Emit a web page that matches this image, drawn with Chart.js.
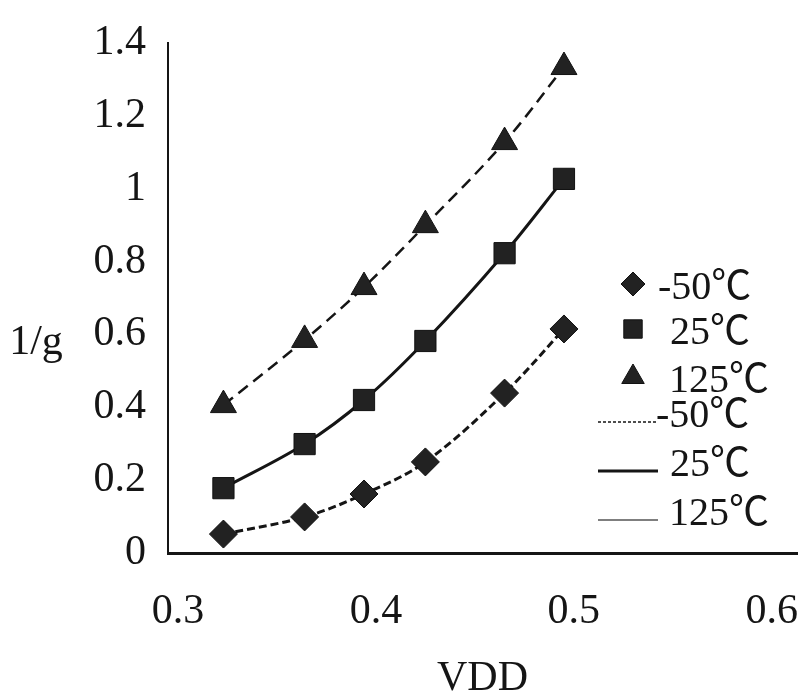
<!DOCTYPE html>
<html>
<head>
<meta charset="utf-8">
<script src="https://cdn.jsdelivr.net/npm/chart.js@4.4.1/dist/chart.umd.min.js"></script>
<style>
  html, body { margin: 0; padding: 0; background: #fff; overflow: hidden; }
  #wrap { width: 798px; height: 700px; }
</style>
</head>
<body>
<div id="wrap"><canvas id="chart"></canvas></div>
<script>
// values
const vdd = [0.323, 0.364, 0.394, 0.425, 0.465, 0.495]
const gMinus50 = [0.052, 0.099, 0.162, 0.250, 0.439, 0.615]
const g25 = [0.178, 0.299, 0.420, 0.582, 0.823, 1.027]
const g125 = [0.406, 0.585, 0.730, 0.900, 1.128, 1.334]
const seriesNames = ['-50℃', '25℃', '125℃']
const xTicks = [0.3, 0.4, 0.5, 0.6]
const yTicks = [0, 0.2, 0.4, 0.6, 0.8, 1, 1.2, 1.4]

const FONT = "'Liberation Serif', 'Noto Sans CJK SC', serif"
const INK = '#151515'

const toPoints = (ys) => vdd.map((x, i) => ({ x, y: ys[i] }))

const markerStyles = ['rectRot', 'rect', 'triangle']
const markerRadius = [14, 15, 15]
const lineDash = [[8, 4], [], [12, 7]]
const lineWidth = [3, 3, 2.5]

const datasets = [gMinus50, g25, g125].map((ys, i) => ({
  label: seriesNames[i],
  data: toPoints(ys),
  showLine: true,
  tension: 0.35,
  borderColor: INK,
  borderWidth: lineWidth[i],
  borderDash: lineDash[i],
  pointStyle: markerStyles[i],
  pointRadius: markerRadius[i],
  pointBackgroundColor: '#222',
  pointBorderColor: '#111',
  pointBorderWidth: 1
}))

// the tick labels must not push the plot area in, the reference lets them hang over
const noLabelPadding = (scale) => {
  scale.getPadding = () => ({ left: 0, top: 0, right: 0, bottom: 0 })
}

// legend + horizontal y title drawn by hand, the reference puts them inside the plot
const extras = {
  id: 'extras',
  afterDraw(chart) {
    const ctx = chart.ctx
    ctx.save()
    ctx.fillStyle = INK
    ctx.font = `42px ${FONT}`
    ctx.textBaseline = 'middle'
    ctx.textAlign = 'center'
    ctx.fillText('1/g', 36, 343)

    ctx.textAlign = 'left'
    ctx.font = `40px ${FONT}`
    const markerY = [284, 329, 377]
    const textX = [658, 670, 669]
    markerStyles.forEach((style, i) => {
      ctx.fillStyle = '#222'
      ctx.strokeStyle = '#111'
      ctx.lineWidth = 1
      ctx.setLineDash([])
      Chart.helpers.drawPoint(ctx, { pointStyle: style, radius: i === 0 ? 12 : 13, rotation: 0, borderWidth: 1 }, 633, markerY[i])
      ctx.fillStyle = INK
      ctx.fillText(seriesNames[i], textX[i], markerY[i] + 4)
    })

    const lineY = [422, 471, 520]
    const lineStyles = [
      { dash: [3, 2], w: 1.5, color: INK, textX: 656 },
      { dash: [], w: 3, color: INK, textX: 670 },
      { dash: [], w: 1.5, color: '#555', textX: 669 }
    ]
    lineStyles.forEach((s, i) => {
      ctx.beginPath()
      ctx.setLineDash(s.dash)
      ctx.lineWidth = s.w
      ctx.strokeStyle = s.color
      ctx.moveTo(598, lineY[i])
      ctx.lineTo(658, lineY[i])
      ctx.stroke()
      ctx.fillStyle = INK
      ctx.fillText(seriesNames[i], s.textX, lineY[i] - 6)
    })
    ctx.restore()
  }
}

new Chart(document.getElementById('chart'), {
  type: 'scatter',
  data: { datasets },
  plugins: [extras],
  options: {
    responsive: true,
    maintainAspectRatio: false,
    animation: false,
    layout: { autoPadding: false, padding: { top: 43, right: 1, left: 0, bottom: 0 } },
    plugins: {
      legend: { display: false },
      tooltip: { enabled: false }
    },
    scales: {
      x: {
        type: 'linear',
        min: 0.295,
        max: 0.6127,
        afterBuildTicks: (scale) => { scale.ticks = xTicks.map(v => ({ value: v })) },
        afterFit: (scale) => {
          scale.height = 147
          noLabelPadding(scale)
        },
        grid: { display: false, drawTicks: false },
        border: { display: true, color: INK, width: 3 },
        ticks: {
          color: INK,
          padding: 34,
          font: { family: FONT, size: 42 },
          callback: (v) => String(v)
        },
        title: {
          display: true,
          text: 'VDD',
          color: INK,
          font: { family: FONT, size: 42 },
          padding: { top: 10, bottom: -4 }
        }
      },
      y: {
        min: 0,
        max: 1.4,
        afterBuildTicks: (scale) => { scale.ticks = yTicks.map(v => ({ value: v })) },
        afterFit: (scale) => {
          scale.width = 168
          noLabelPadding(scale)
        },
        grid: { display: false, drawTicks: false },
        border: { display: true, color: INK, width: 2 },
        ticks: {
          color: INK,
          padding: 22,
          font: { family: FONT, size: 42 },
          callback: (v) => String(v)
        }
      }
    }
  }
})
</script>
</body>
</html>
